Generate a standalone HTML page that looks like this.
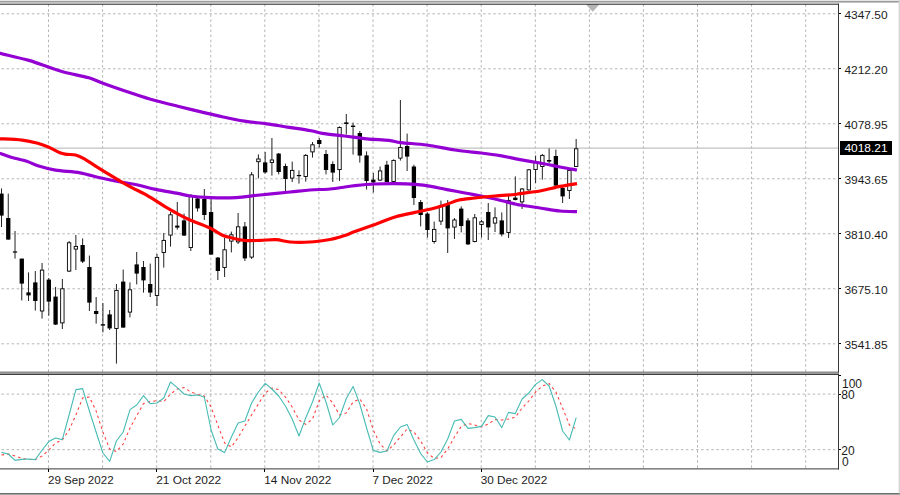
<!DOCTYPE html>
<html><head><meta charset="utf-8"><title>Chart</title>
<style>html,body{margin:0;padding:0;background:#fff;}body{width:900px;height:495px;overflow:hidden;position:relative;font-family:"Liberation Sans",sans-serif;}</style>
</head><body>
<svg width="900" height="495" viewBox="0 0 900 495" style="position:absolute;left:0;top:0">
<rect x="0" y="0" width="900" height="495" fill="#ffffff"/>
<g stroke="#b4b4b4" stroke-width="1" stroke-dasharray="2.5 2.57" fill="none">
<line x1="0" y1="13.8" x2="838" y2="13.8" stroke-dashoffset="3.6"/>
<line x1="0" y1="68.8" x2="838" y2="68.8" stroke-dashoffset="3.6"/>
<line x1="0" y1="123.8" x2="838" y2="123.8" stroke-dashoffset="3.6"/>
<line x1="0" y1="178.8" x2="838" y2="178.8" stroke-dashoffset="3.6"/>
<line x1="0" y1="233.8" x2="838" y2="233.8" stroke-dashoffset="3.6"/>
<line x1="0" y1="288.8" x2="838" y2="288.8" stroke-dashoffset="3.6"/>
<line x1="0" y1="343.8" x2="838" y2="343.8" stroke-dashoffset="3.6"/>
<line x1="0" y1="394.1" x2="838" y2="394.1" stroke-dashoffset="3.6"/>
<line x1="0" y1="449.7" x2="838" y2="449.7" stroke-dashoffset="3.6"/>
<line x1="48.5" y1="4.2" x2="48.5" y2="372" />
<line x1="48.5" y1="374.1" x2="48.5" y2="468.5" />
<line x1="102.6" y1="4.2" x2="102.6" y2="372" />
<line x1="102.6" y1="374.1" x2="102.6" y2="468.5" />
<line x1="156.7" y1="4.2" x2="156.7" y2="372" />
<line x1="156.7" y1="374.1" x2="156.7" y2="468.5" />
<line x1="210.8" y1="4.2" x2="210.8" y2="372" />
<line x1="210.8" y1="374.1" x2="210.8" y2="468.5" />
<line x1="264.8" y1="4.2" x2="264.8" y2="372" />
<line x1="264.8" y1="374.1" x2="264.8" y2="468.5" />
<line x1="318.9" y1="4.2" x2="318.9" y2="372" />
<line x1="318.9" y1="374.1" x2="318.9" y2="468.5" />
<line x1="373.0" y1="4.2" x2="373.0" y2="372" />
<line x1="373.0" y1="374.1" x2="373.0" y2="468.5" />
<line x1="427.1" y1="4.2" x2="427.1" y2="372" />
<line x1="427.1" y1="374.1" x2="427.1" y2="468.5" />
<line x1="481.2" y1="4.2" x2="481.2" y2="372" />
<line x1="481.2" y1="374.1" x2="481.2" y2="468.5" />
<line x1="535.3" y1="4.2" x2="535.3" y2="372" />
<line x1="535.3" y1="374.1" x2="535.3" y2="468.5" />
<line x1="589.4" y1="4.2" x2="589.4" y2="372" />
<line x1="589.4" y1="374.1" x2="589.4" y2="468.5" />
<line x1="643.4" y1="4.2" x2="643.4" y2="372" />
<line x1="643.4" y1="374.1" x2="643.4" y2="468.5" />
<line x1="697.5" y1="4.2" x2="697.5" y2="372" />
<line x1="697.5" y1="374.1" x2="697.5" y2="468.5" />
<line x1="751.6" y1="4.2" x2="751.6" y2="372" />
<line x1="751.6" y1="374.1" x2="751.6" y2="468.5" />
<line x1="805.7" y1="4.2" x2="805.7" y2="372" />
<line x1="805.7" y1="374.1" x2="805.7" y2="468.5" />
</g>
<line x1="0" y1="148.15" x2="839" y2="148.15" stroke="#c2c2c2" stroke-width="1.1"/>
<polygon points="586,4.5 599.4,4.5 592.7,11.8" fill="#b4b4b4"/>
<g stroke="#000" stroke-width="1">
<line x1="1.50" y1="188.4" x2="1.50" y2="227.0" stroke="#222"/>
<line x1="8.26" y1="193.6" x2="8.26" y2="239.6" stroke="#222"/>
<line x1="15.02" y1="231.0" x2="15.02" y2="258.6" stroke="#222"/>
<line x1="21.78" y1="258.6" x2="21.78" y2="300.4" stroke="#222"/>
<line x1="28.54" y1="272.4" x2="28.54" y2="301.0" stroke="#222"/>
<line x1="35.30" y1="271.0" x2="35.30" y2="310.6" stroke="#222"/>
<line x1="42.06" y1="263.0" x2="42.06" y2="318.6" stroke="#222"/>
<line x1="48.82" y1="278.0" x2="48.82" y2="315.6" stroke="#222"/>
<line x1="55.58" y1="287.0" x2="55.58" y2="325.0" stroke="#222"/>
<line x1="62.35" y1="279.0" x2="62.35" y2="329.0" stroke="#222"/>
<line x1="69.11" y1="241.0" x2="69.11" y2="272.0" stroke="#222"/>
<line x1="75.87" y1="235.0" x2="75.87" y2="270.0" stroke="#222"/>
<line x1="82.63" y1="238.4" x2="82.63" y2="263.0" stroke="#222"/>
<line x1="89.39" y1="255.6" x2="89.39" y2="311.0" stroke="#222"/>
<line x1="96.15" y1="297.0" x2="96.15" y2="323.6" stroke="#222"/>
<line x1="102.91" y1="303.0" x2="102.91" y2="332.4" stroke="#222"/>
<line x1="109.67" y1="310.0" x2="109.67" y2="330.0" stroke="#222"/>
<line x1="116.43" y1="284.0" x2="116.43" y2="363.6" stroke="#222"/>
<line x1="123.19" y1="269.6" x2="123.19" y2="327.6" stroke="#222"/>
<line x1="129.95" y1="282.4" x2="129.95" y2="317.4" stroke="#222"/>
<line x1="136.71" y1="252.0" x2="136.71" y2="284.4" stroke="#222"/>
<line x1="143.47" y1="261.0" x2="143.47" y2="292.6" stroke="#222"/>
<line x1="150.23" y1="263.6" x2="150.23" y2="297.0" stroke="#222"/>
<line x1="156.99" y1="254.0" x2="156.99" y2="306.0" stroke="#222"/>
<line x1="163.75" y1="233.0" x2="163.75" y2="267.6" stroke="#222"/>
<line x1="170.52" y1="212.0" x2="170.52" y2="246.6" stroke="#222"/>
<line x1="177.28" y1="202.0" x2="177.28" y2="229.6" stroke="#222"/>
<line x1="184.04" y1="213.6" x2="184.04" y2="236.0" stroke="#222"/>
<line x1="190.80" y1="194.0" x2="190.80" y2="251.0" stroke="#222"/>
<line x1="197.56" y1="196.0" x2="197.56" y2="211.6" stroke="#222"/>
<line x1="204.32" y1="189.0" x2="204.32" y2="220.0" stroke="#222"/>
<line x1="211.08" y1="199.0" x2="211.08" y2="254.6" stroke="#222"/>
<line x1="217.84" y1="257.0" x2="217.84" y2="280.0" stroke="#222"/>
<line x1="224.60" y1="238.0" x2="224.60" y2="277.0" stroke="#222"/>
<line x1="231.36" y1="231.6" x2="231.36" y2="252.4" stroke="#222"/>
<line x1="238.12" y1="213.0" x2="238.12" y2="244.0" stroke="#222"/>
<line x1="244.88" y1="222.0" x2="244.88" y2="261.0" stroke="#222"/>
<line x1="251.64" y1="172.0" x2="251.64" y2="259.0" stroke="#222"/>
<line x1="258.40" y1="154.4" x2="258.40" y2="178.4" stroke="#222"/>
<line x1="265.16" y1="152.0" x2="265.16" y2="173.6" stroke="#222"/>
<line x1="271.92" y1="138.0" x2="271.92" y2="175.6" stroke="#222"/>
<line x1="278.68" y1="153.0" x2="278.68" y2="174.4" stroke="#222"/>
<line x1="285.45" y1="163.6" x2="285.45" y2="191.6" stroke="#222"/>
<line x1="292.21" y1="161.6" x2="292.21" y2="182.0" stroke="#222"/>
<line x1="298.97" y1="170.4" x2="298.97" y2="183.6" stroke="#222"/>
<line x1="305.73" y1="154.0" x2="305.73" y2="181.6" stroke="#222"/>
<line x1="312.49" y1="142.0" x2="312.49" y2="157.6" stroke="#222"/>
<line x1="319.25" y1="138.0" x2="319.25" y2="147.6" stroke="#222"/>
<line x1="326.01" y1="150.0" x2="326.01" y2="174.4" stroke="#222"/>
<line x1="332.77" y1="161.4" x2="332.77" y2="182.0" stroke="#222"/>
<line x1="339.53" y1="126.4" x2="339.53" y2="181.0" stroke="#222"/>
<line x1="346.29" y1="114.0" x2="346.29" y2="134.5" stroke="#222"/>
<line x1="353.05" y1="122.6" x2="353.05" y2="154.6" stroke="#222"/>
<line x1="359.81" y1="131.0" x2="359.81" y2="162.6" stroke="#222"/>
<line x1="366.57" y1="151.4" x2="366.57" y2="189.5" stroke="#222"/>
<line x1="373.33" y1="173.0" x2="373.33" y2="192.5" stroke="#222"/>
<line x1="380.09" y1="166.5" x2="380.09" y2="181.0" stroke="#222"/>
<line x1="386.85" y1="160.8" x2="386.85" y2="182.0" stroke="#222"/>
<line x1="393.61" y1="159.4" x2="393.61" y2="182.0" stroke="#222"/>
<line x1="400.38" y1="100.0" x2="400.38" y2="160.6" stroke="#222"/>
<line x1="407.14" y1="133.6" x2="407.14" y2="171.0" stroke="#222"/>
<line x1="413.90" y1="164.7" x2="413.90" y2="205.0" stroke="#222"/>
<line x1="420.66" y1="200.0" x2="420.66" y2="226.4" stroke="#222"/>
<line x1="427.42" y1="212.4" x2="427.42" y2="237.6" stroke="#222"/>
<line x1="434.18" y1="221.6" x2="434.18" y2="243.6" stroke="#222"/>
<line x1="440.94" y1="200.6" x2="440.94" y2="225.0" stroke="#222"/>
<line x1="447.70" y1="200.0" x2="447.70" y2="253.0" stroke="#222"/>
<line x1="454.46" y1="218.0" x2="454.46" y2="239.0" stroke="#222"/>
<line x1="461.22" y1="206.4" x2="461.22" y2="232.4" stroke="#222"/>
<line x1="467.98" y1="218.0" x2="467.98" y2="245.0" stroke="#222"/>
<line x1="474.74" y1="214.0" x2="474.74" y2="242.4" stroke="#222"/>
<line x1="481.50" y1="220.0" x2="481.50" y2="237.6" stroke="#222"/>
<line x1="488.26" y1="203.0" x2="488.26" y2="240.0" stroke="#222"/>
<line x1="495.02" y1="207.4" x2="495.02" y2="232.0" stroke="#222"/>
<line x1="501.78" y1="212.4" x2="501.78" y2="236.4" stroke="#222"/>
<line x1="508.55" y1="195.0" x2="508.55" y2="238.0" stroke="#222"/>
<line x1="515.31" y1="176.4" x2="515.31" y2="200.4" stroke="#222"/>
<line x1="522.07" y1="188.0" x2="522.07" y2="209.0" stroke="#222"/>
<line x1="528.83" y1="169.0" x2="528.83" y2="190.6" stroke="#222"/>
<line x1="535.59" y1="155.6" x2="535.59" y2="183.0" stroke="#222"/>
<line x1="542.35" y1="154.0" x2="542.35" y2="179.6" stroke="#222"/>
<line x1="549.11" y1="148.4" x2="549.11" y2="163.6" stroke="#222"/>
<line x1="555.87" y1="149.6" x2="555.87" y2="186.0" stroke="#222"/>
<line x1="562.63" y1="187.0" x2="562.63" y2="203.0" stroke="#222"/>
<line x1="569.39" y1="169.0" x2="569.39" y2="199.0" stroke="#222"/>
<line x1="576.15" y1="139.0" x2="576.15" y2="167.0" stroke="#222"/>
</g>
<rect x="-0.65" y="193.6" width="4.3" height="22.0" fill="#000"/>
<rect x="6.11" y="218.0" width="4.3" height="21.6" fill="#000"/>
<rect x="12.87" y="251.4" width="4.3" height="1.2" fill="#000"/>
<rect x="19.63" y="258.6" width="4.3" height="25.0" fill="#000"/>
<rect x="26.39" y="292.4" width="4.3" height="3.0" fill="#000"/>
<rect x="33.15" y="282.4" width="4.3" height="18.6" fill="#000"/>
<rect x="40.36" y="270.1" width="3.40" height="40.9" fill="#fff" stroke="#000" stroke-width="0.9"/>
<rect x="46.67" y="279.6" width="4.3" height="22.0" fill="#000"/>
<rect x="53.43" y="296.6" width="4.3" height="28.0" fill="#000"/>
<rect x="60.65" y="288.8" width="3.40" height="34.1" fill="#fff" stroke="#000" stroke-width="0.9"/>
<rect x="67.41" y="242.8" width="3.40" height="28.3" fill="#fff" stroke="#000" stroke-width="0.9"/>
<rect x="74.17" y="246.4" width="3.40" height="2.7" fill="#fff" stroke="#000" stroke-width="0.9"/>
<rect x="80.48" y="245.0" width="4.3" height="16.6" fill="#000"/>
<rect x="87.24" y="267.0" width="4.3" height="35.6" fill="#000"/>
<rect x="94.00" y="311.0" width="4.3" height="3.0" fill="#000"/>
<rect x="100.76" y="324.2" width="4.3" height="1.4" fill="#000"/>
<rect x="107.52" y="314.4" width="4.3" height="14.0" fill="#000"/>
<rect x="114.73" y="290.4" width="3.40" height="38.1" fill="#fff" stroke="#000" stroke-width="0.9"/>
<rect x="121.04" y="281.6" width="4.3" height="46.0" fill="#000"/>
<rect x="128.25" y="289.8" width="3.40" height="22.3" fill="#fff" stroke="#000" stroke-width="0.9"/>
<rect x="134.56" y="264.4" width="4.3" height="9.2" fill="#000"/>
<rect x="141.32" y="267.0" width="4.3" height="13.4" fill="#000"/>
<rect x="148.08" y="284.0" width="4.3" height="8.6" fill="#000"/>
<rect x="155.29" y="257.4" width="3.40" height="38.1" fill="#fff" stroke="#000" stroke-width="0.9"/>
<rect x="162.05" y="240.4" width="3.40" height="12.1" fill="#fff" stroke="#000" stroke-width="0.9"/>
<rect x="168.81" y="214.8" width="3.40" height="20.3" fill="#fff" stroke="#000" stroke-width="0.9"/>
<rect x="175.13" y="225.6" width="4.3" height="2.0" fill="#000"/>
<rect x="181.89" y="220.4" width="4.3" height="15.2" fill="#000"/>
<rect x="189.10" y="196.4" width="3.40" height="51.1" fill="#fff" stroke="#000" stroke-width="0.9"/>
<rect x="195.41" y="198.4" width="4.3" height="10.0" fill="#000"/>
<rect x="202.17" y="199.0" width="4.3" height="16.0" fill="#000"/>
<rect x="208.93" y="212.0" width="4.3" height="42.6" fill="#000"/>
<rect x="215.69" y="257.6" width="4.3" height="13.4" fill="#000"/>
<rect x="222.90" y="249.8" width="3.40" height="17.7" fill="#fff" stroke="#000" stroke-width="0.9"/>
<rect x="229.66" y="234.8" width="3.40" height="6.3" fill="#fff" stroke="#000" stroke-width="0.9"/>
<rect x="236.42" y="226.8" width="3.40" height="15.1" fill="#fff" stroke="#000" stroke-width="0.9"/>
<rect x="242.73" y="226.4" width="4.3" height="32.0" fill="#000"/>
<rect x="249.94" y="174.8" width="3.40" height="82.3" fill="#fff" stroke="#000" stroke-width="0.9"/>
<rect x="256.70" y="159.0" width="3.40" height="2.7" fill="#fff" stroke="#000" stroke-width="0.9"/>
<rect x="263.01" y="162.4" width="4.3" height="10.0" fill="#000"/>
<rect x="270.22" y="160.0" width="3.40" height="2.5" fill="#fff" stroke="#000" stroke-width="0.9"/>
<rect x="276.53" y="153.6" width="4.3" height="18.4" fill="#000"/>
<rect x="283.30" y="166.0" width="4.3" height="13.0" fill="#000"/>
<rect x="290.51" y="170.4" width="3.40" height="7.7" fill="#fff" stroke="#000" stroke-width="0.9"/>
<rect x="296.82" y="175.0" width="4.3" height="1.2" fill="#000"/>
<rect x="304.03" y="155.4" width="3.40" height="21.1" fill="#fff" stroke="#000" stroke-width="0.9"/>
<rect x="310.79" y="144.8" width="3.40" height="7.1" fill="#fff" stroke="#000" stroke-width="0.9"/>
<rect x="317.10" y="140.0" width="4.3" height="4.0" fill="#000"/>
<rect x="323.86" y="154.0" width="4.3" height="16.0" fill="#000"/>
<rect x="330.62" y="164.0" width="4.3" height="8.6" fill="#000"/>
<rect x="337.83" y="127.5" width="3.40" height="42.1" fill="#fff" stroke="#000" stroke-width="0.9"/>
<rect x="344.14" y="122.4" width="4.3" height="1.6" fill="#000"/>
<rect x="350.90" y="125.6" width="4.3" height="1.4" fill="#000"/>
<rect x="357.66" y="133.0" width="4.3" height="22.6" fill="#000"/>
<rect x="364.42" y="155.4" width="4.3" height="25.6" fill="#000"/>
<rect x="371.18" y="179.6" width="4.3" height="2.8" fill="#000"/>
<rect x="378.39" y="170.9" width="3.40" height="9.2" fill="#fff" stroke="#000" stroke-width="0.9"/>
<rect x="384.70" y="164.7" width="4.3" height="17.3" fill="#000"/>
<rect x="391.91" y="160.4" width="3.40" height="21.1" fill="#fff" stroke="#000" stroke-width="0.9"/>
<rect x="398.68" y="147.4" width="3.40" height="10.7" fill="#fff" stroke="#000" stroke-width="0.9"/>
<rect x="404.99" y="146.0" width="4.3" height="10.6" fill="#000"/>
<rect x="411.75" y="166.5" width="4.3" height="31.5" fill="#000"/>
<rect x="418.51" y="202.0" width="4.3" height="13.0" fill="#000"/>
<rect x="425.27" y="213.6" width="4.3" height="16.4" fill="#000"/>
<rect x="432.48" y="229.4" width="3.40" height="12.1" fill="#fff" stroke="#000" stroke-width="0.9"/>
<rect x="439.24" y="205.4" width="3.40" height="15.7" fill="#fff" stroke="#000" stroke-width="0.9"/>
<rect x="445.55" y="205.0" width="4.3" height="23.4" fill="#000"/>
<rect x="452.76" y="220.0" width="3.40" height="7.1" fill="#fff" stroke="#000" stroke-width="0.9"/>
<rect x="459.07" y="208.6" width="4.3" height="17.4" fill="#000"/>
<rect x="465.83" y="220.4" width="4.3" height="24.0" fill="#000"/>
<rect x="473.04" y="217.8" width="3.40" height="23.7" fill="#fff" stroke="#000" stroke-width="0.9"/>
<rect x="479.80" y="221.8" width="3.40" height="2.7" fill="#fff" stroke="#000" stroke-width="0.9"/>
<rect x="486.11" y="212.0" width="4.3" height="15.4" fill="#000"/>
<rect x="493.32" y="217.8" width="3.40" height="5.3" fill="#fff" stroke="#000" stroke-width="0.9"/>
<rect x="499.63" y="220.4" width="4.3" height="14.0" fill="#000"/>
<rect x="506.85" y="200.4" width="3.40" height="32.1" fill="#fff" stroke="#000" stroke-width="0.9"/>
<rect x="513.16" y="197.6" width="4.3" height="2.4" fill="#000"/>
<rect x="520.37" y="189.0" width="3.40" height="12.9" fill="#fff" stroke="#000" stroke-width="0.9"/>
<rect x="527.13" y="169.8" width="3.40" height="20.1" fill="#fff" stroke="#000" stroke-width="0.9"/>
<rect x="533.89" y="162.4" width="3.40" height="7.1" fill="#fff" stroke="#000" stroke-width="0.9"/>
<rect x="540.65" y="155.4" width="3.40" height="11.1" fill="#fff" stroke="#000" stroke-width="0.9"/>
<rect x="546.96" y="160.0" width="4.3" height="1.6" fill="#000"/>
<rect x="553.72" y="156.0" width="4.3" height="29.6" fill="#000"/>
<rect x="560.48" y="188.0" width="4.3" height="8.4" fill="#000"/>
<rect x="567.69" y="170.4" width="3.40" height="20.1" fill="#fff" stroke="#000" stroke-width="0.9"/>
<rect x="574.45" y="148.8" width="3.40" height="17.7" fill="#fff" stroke="#000" stroke-width="0.9"/>
<path d="M-2.0,152.7 C-1.7,152.8 -2.2,152.7 0.0,153.4 C2.2,154.2 6.6,155.9 11.1,157.2 C15.6,158.5 22.2,159.8 26.7,161.2 C31.1,162.6 33.0,164.2 37.8,165.7 C42.6,167.2 48.6,168.9 55.6,170.1 C62.6,171.3 72.6,171.5 80.0,172.8 C87.4,174.1 93.0,176.1 100.0,177.7 C107.0,179.3 115.9,181.1 122.2,182.3 C128.5,183.5 132.2,183.8 137.8,185.0 C143.4,186.2 148.9,188.0 155.6,189.4 C162.3,190.8 172.1,192.3 177.8,193.4 C183.5,194.5 184.6,195.3 190.0,196.0 C195.4,196.7 202.3,197.3 210.0,197.6 C217.7,197.9 227.7,198.0 236.0,197.6 C244.3,197.2 251.0,195.9 260.0,195.0 C269.0,194.1 281.7,192.8 290.0,192.0 C298.3,191.2 303.3,190.5 310.0,190.0 C316.7,189.5 324.2,189.5 330.0,189.0 C335.8,188.5 340.8,187.6 345.0,187.0 C349.2,186.4 350.0,186.1 355.0,185.6 C360.0,185.1 368.3,184.3 375.0,184.0 C381.7,183.7 388.3,183.5 395.0,183.6 C401.7,183.7 409.0,183.9 415.0,184.4 C421.0,184.9 425.7,185.5 431.0,186.4 C436.3,187.3 441.3,188.5 447.0,189.6 C452.7,190.7 459.3,191.9 465.0,193.0 C470.7,194.1 476.0,195.0 481.0,196.0 C486.0,197.0 489.3,197.7 495.0,199.0 C500.7,200.3 510.8,203.0 515.0,204.0 C519.2,205.0 515.8,204.3 520.0,205.0 C524.2,205.7 533.3,207.0 540.0,208.0 C546.7,209.0 553.8,210.4 560.0,211.0 C566.2,211.6 574.2,211.5 577.0,211.6" fill="none" stroke="#9400d3" stroke-width="3.2" stroke-linejoin="round" stroke-linecap="butt"/>
<path d="M-2.0,52.8 C-1.7,52.9 -5.1,52.0 0.0,53.3 C5.1,54.6 20.8,58.1 28.9,60.4 C37.0,62.7 43.0,65.3 48.9,67.3 C54.8,69.3 57.7,70.5 64.4,72.2 C71.1,74.0 82.6,76.0 88.9,77.8 C95.2,79.6 95.5,80.5 102.2,82.9 C108.9,85.3 120.4,89.4 128.9,92.2 C137.4,95.0 145.2,97.7 153.3,100.0 C161.5,102.3 170.0,104.3 177.8,106.2 C185.6,108.1 192.6,109.8 200.0,111.6 C207.4,113.3 214.8,115.1 222.2,116.7 C229.6,118.3 237.0,119.9 244.4,121.1 C251.8,122.3 259.3,122.8 266.7,123.8 C274.1,124.8 281.5,126.2 288.9,127.3 C296.3,128.4 305.6,129.7 311.1,130.7 C316.7,131.7 316.6,132.4 322.2,133.3 C327.8,134.2 337.0,135.1 344.4,136.0 C351.8,136.9 359.3,138.2 366.7,138.9 C374.1,139.6 383.2,139.8 388.9,140.4 C394.6,141.0 394.6,141.8 401.0,142.6 C407.4,143.4 418.0,143.8 427.0,145.0 C436.0,146.2 446.0,148.7 455.0,150.0 C464.0,151.3 473.5,152.1 481.0,153.0 C488.5,153.9 493.5,154.5 500.0,155.6 C506.5,156.7 513.3,158.4 520.0,159.6 C526.7,160.8 533.3,161.8 540.0,163.0 C546.7,164.2 553.8,165.8 560.0,167.0 C566.2,168.2 574.2,169.5 577.0,170.0" fill="none" stroke="#9400d3" stroke-width="3.2" stroke-linejoin="round" stroke-linecap="butt"/>
<path d="M-2.0,138.7 C-1.7,138.7 -4.0,138.6 0.0,138.8 C4.0,139.0 15.9,139.4 22.2,140.1 C28.5,140.8 33.3,142.0 37.8,143.2 C42.2,144.4 45.2,145.6 48.9,147.2 C52.6,148.8 57.0,151.6 60.0,152.8 C63.0,154.0 64.1,153.9 66.7,154.3 C69.3,154.7 72.6,154.2 75.6,155.0 C78.5,155.8 81.1,157.0 84.4,158.8 C87.7,160.7 91.1,163.3 95.6,166.1 C100.0,168.9 106.7,173.0 111.1,175.7 C115.5,178.4 118.5,180.2 122.2,182.3 C125.9,184.4 129.6,186.4 133.3,188.3 C137.0,190.2 140.7,191.9 144.4,193.9 C148.1,195.9 151.9,198.3 155.6,200.6 C159.3,202.9 163.0,205.5 166.7,207.7 C170.4,209.9 173.9,211.8 177.8,213.9 C181.7,216.0 184.6,217.7 190.0,220.0 C195.4,222.3 204.7,225.5 210.0,228.0 C215.3,230.5 218.3,233.3 222.0,235.0 C225.7,236.7 228.3,237.1 232.0,238.0 C235.7,238.9 239.3,240.0 244.0,240.4 C248.7,240.8 254.7,240.5 260.0,240.4 C265.3,240.3 271.0,239.3 276.0,239.6 C281.0,239.9 284.3,241.6 290.0,242.0 C295.7,242.4 303.3,242.4 310.0,242.0 C316.7,241.6 325.0,240.3 330.0,239.5 C335.0,238.7 335.8,238.3 340.0,237.0 C344.2,235.7 349.2,233.7 355.0,231.6 C360.8,229.5 368.3,226.8 375.0,224.4 C381.7,222.0 388.3,219.0 395.0,217.0 C401.7,215.0 409.0,213.7 415.0,212.4 C421.0,211.1 426.0,210.2 431.0,209.0 C436.0,207.8 440.3,206.5 445.0,205.0 C449.7,203.5 454.0,201.2 459.0,200.0 C464.0,198.8 469.0,198.7 475.0,198.0 C481.0,197.3 488.3,196.6 495.0,196.0 C501.7,195.4 510.8,194.9 515.0,194.5 C519.2,194.1 515.8,194.2 520.0,193.6 C524.2,193.0 533.3,192.2 540.0,191.0 C546.7,189.8 553.8,187.6 560.0,186.4 C566.2,185.2 574.2,184.1 577.0,183.6" fill="none" stroke="#ff0000" stroke-width="3.2" stroke-linejoin="round" stroke-linecap="butt"/>
<path d="M1.5,455.0 L8.3,454.0 L15.0,456.0 L21.8,458.4 L28.5,459.4 L35.3,459.6 L42.1,456.0 L48.8,450.0 L55.6,443.0 L62.3,440.0 L69.1,430.0 L75.9,415.0 L82.6,398.0 L89.4,397.0 L96.1,411.0 L102.9,432.0 L109.7,449.0 L116.4,451.6 L123.2,444.0 L130.0,428.0 L136.7,415.6 L143.5,403.6 L150.2,401.6 L157.0,400.6 L163.8,401.6 L170.5,394.0 L177.3,389.0 L184.0,387.6 L190.8,392.0 L197.6,394.4 L204.3,396.0 L211.1,407.0 L217.8,425.0 L224.6,443.0 L231.4,447.0 L238.1,437.6 L244.9,426.0 L251.6,415.0 L258.4,404.0 L265.2,393.0 L271.9,388.0 L278.7,389.6 L285.4,397.0 L292.2,407.0 L299.0,420.0 L305.7,424.4 L312.5,419.0 L319.2,401.0 L326.0,395.0 L332.8,403.0 L339.5,415.0 L346.3,413.0 L353.1,402.0 L359.8,399.0 L366.6,409.0 L373.3,430.0 L380.1,444.0 L386.9,451.0 L393.6,445.0 L400.4,437.0 L407.1,429.0 L413.9,432.0 L420.7,441.0 L427.4,453.0 L434.2,458.4 L440.9,457.6 L447.7,449.0 L454.5,437.0 L461.2,426.4 L468.0,423.4 L474.7,425.0 L481.5,427.0 L488.3,424.0 L495.0,419.6 L501.8,420.0 L508.5,419.0 L515.3,417.3 L522.1,408.0 L528.8,401.0 L535.6,392.0 L542.3,386.0 L549.1,383.6 L555.9,392.0 L562.6,408.0 L569.4,425.0 L576.2,429.0" fill="none" stroke="#ff3a3a" stroke-width="1.05" stroke-dasharray="2.6 3.1" stroke-linejoin="round"/>
<path d="M1.5,452.4 L8.3,454.0 L15.0,460.4 L21.8,459.4 L28.5,459.0 L35.3,459.6 L42.1,450.0 L48.8,441.6 L55.6,438.0 L62.3,439.6 L69.1,415.0 L75.9,389.6 L82.6,388.6 L89.4,411.0 L96.1,432.0 L102.9,453.0 L109.7,461.4 L116.4,441.0 L123.2,432.0 L130.0,409.6 L136.7,405.0 L143.5,395.6 L150.2,403.6 L157.0,403.0 L163.8,398.0 L170.5,382.0 L177.3,387.6 L184.0,394.0 L190.8,395.6 L197.6,395.0 L204.3,397.0 L211.1,430.0 L217.8,449.0 L224.6,452.6 L231.4,437.0 L238.1,423.0 L244.9,421.0 L251.6,403.0 L258.4,392.0 L265.2,383.4 L271.9,389.0 L278.7,396.0 L285.4,406.0 L292.2,419.0 L299.0,436.0 L305.7,418.0 L312.5,402.0 L319.2,383.0 L326.0,402.0 L332.8,425.0 L339.5,417.5 L346.3,398.5 L353.1,386.4 L359.8,404.0 L366.6,428.0 L373.3,450.4 L380.1,452.4 L386.9,451.0 L393.6,435.6 L400.4,427.0 L407.1,424.4 L413.9,440.0 L420.7,453.6 L427.4,462.0 L434.2,459.6 L440.9,452.0 L447.7,439.0 L454.5,421.0 L461.2,419.4 L468.0,428.4 L474.7,427.6 L481.5,426.4 L488.3,415.6 L495.0,417.0 L501.8,427.6 L508.5,412.4 L515.3,413.6 L522.1,399.0 L528.8,393.0 L535.6,384.4 L542.3,379.6 L549.1,386.0 L555.9,406.0 L562.6,431.0 L569.4,440.0 L576.2,417.6" fill="none" stroke="#48bcb4" stroke-width="1.1" stroke-linejoin="round"/>
<g>
<rect x="0" y="0" width="900" height="1" fill="#e6e6e6"/>
<rect x="0" y="1" width="900" height="1.6" fill="#9c9c9c"/>
<rect x="0" y="3.7" width="839" height="0.95" fill="#111"/>
<rect x="838.05" y="3.7" width="0.9" height="465.6" fill="#222"/>
<rect x="0" y="371.7" width="839" height="0.9" fill="#3c3c3c"/>
<rect x="0" y="372.6" width="839" height="1.4" fill="#9a9a9a"/>
<rect x="0" y="374" width="839" height="0.9" fill="#2a2a2a"/>
<rect x="0" y="468.45" width="839" height="0.9" fill="#222"/>
<rect x="0" y="493.2" width="900" height="1.3" fill="#4a4a4a"/>
<rect x="898.6" y="0" width="1.4" height="493.4" fill="#d4d4d4"/>
</g><g shape-rendering="crispEdges">
<rect x="839" y="13" width="2" height="1" fill="#000"/>
<rect x="839" y="68" width="2" height="1" fill="#000"/>
<rect x="839" y="123" width="2" height="1" fill="#000"/>
<rect x="839" y="178" width="2" height="1" fill="#000"/>
<rect x="839" y="233" width="2" height="1" fill="#000"/>
<rect x="839" y="288" width="2" height="1" fill="#000"/>
<rect x="839" y="343" width="2" height="1" fill="#000"/>
<rect x="839" y="394" width="2" height="1" fill="#000"/>
<rect x="839" y="449" width="2" height="1" fill="#000"/>
<rect x="839" y="375" width="2" height="1" fill="#000"/>
<rect x="48" y="469" width="1" height="3" fill="#000"/>
<rect x="156" y="469" width="1" height="3" fill="#000"/>
<rect x="264" y="469" width="1" height="3" fill="#000"/>
<rect x="373" y="469" width="1" height="3" fill="#000"/>
<rect x="481" y="469" width="1" height="3" fill="#000"/>
<rect x="840" y="141" width="52" height="14" fill="#000"/>
</g>
<g font-family="Liberation Sans, sans-serif" font-size="12px" fill="#1c1c1c">
<text x="844.4" y="18.6" font-size="11.7px" textLength="43.2" lengthAdjust="spacingAndGlyphs">4347.50</text>
<text x="844.4" y="73.5" font-size="11.7px" textLength="43.2" lengthAdjust="spacingAndGlyphs">4212.20</text>
<text x="844.4" y="128.6" font-size="11.7px" textLength="43.2" lengthAdjust="spacingAndGlyphs">4078.95</text>
<text x="844.4" y="183.6" font-size="11.7px" textLength="43.2" lengthAdjust="spacingAndGlyphs">3943.65</text>
<text x="844.4" y="238.6" font-size="11.7px" textLength="43.2" lengthAdjust="spacingAndGlyphs">3810.40</text>
<text x="844.4" y="293.6" font-size="11.7px" textLength="43.2" lengthAdjust="spacingAndGlyphs">3675.10</text>
<text x="844.4" y="348.6" font-size="11.7px" textLength="43.2" lengthAdjust="spacingAndGlyphs">3541.85</text>
<text x="844.4" y="152.4" fill="#fff" font-size="11.7px" textLength="43.2" lengthAdjust="spacingAndGlyphs">4018.21</text>
<text x="842" y="388">100</text>
<text x="841.3" y="399.2">80</text>
<text x="841.3" y="454.6">20</text>
<text x="842" y="465.8">0</text>
<text x="48.0" y="483.7" font-size="11.7px" textLength="65.6" lengthAdjust="spacingAndGlyphs">29 Sep 2022</text>
<text x="156.2" y="483.7" font-size="11.7px" textLength="65" lengthAdjust="spacingAndGlyphs">21 Oct 2022</text>
<text x="264.3" y="483.7" font-size="11.7px" textLength="67" lengthAdjust="spacingAndGlyphs">14 Nov 2022</text>
<text x="372.5" y="483.7" font-size="11.7px" textLength="60.2" lengthAdjust="spacingAndGlyphs">7 Dec 2022</text>
<text x="480.7" y="483.7" font-size="11.7px" textLength="66.6" lengthAdjust="spacingAndGlyphs">30 Dec 2022</text>
</g>
</svg>
</body></html>
